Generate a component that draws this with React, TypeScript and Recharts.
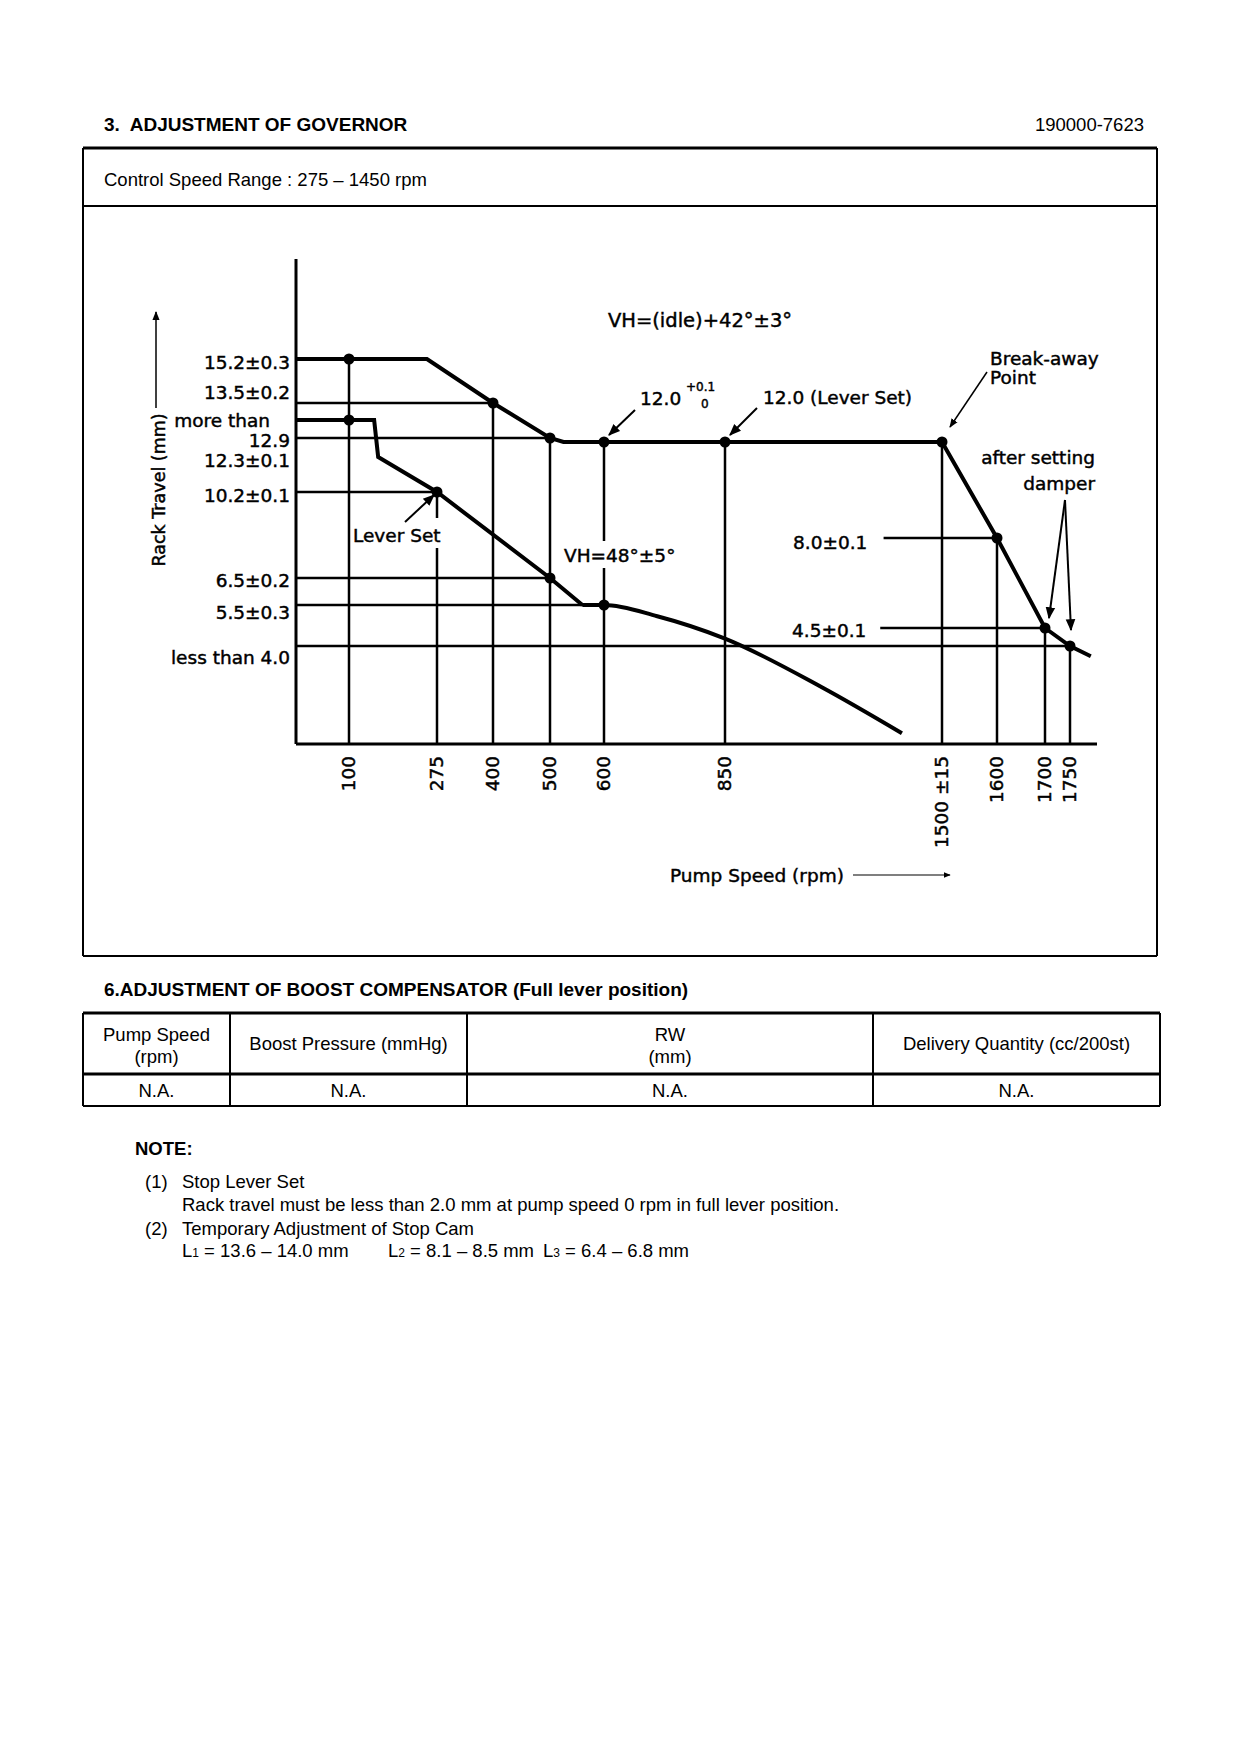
import React from "react";
import { ComposedChart, Line, Scatter, XAxis, YAxis, ReferenceLine } from "recharts";

// full lever curve (rpm / rack travel mm)
const fullRpm = [0, 100, 255, 400, 500, 525, 600, 850, 1500, 1600, 1700, 1750, 1790];
const fullRack = [15.2, 15.2, 15.2, 13.5, 12.9, 12.0, 12.0, 12.0, 12.0, 8.0, 4.5, 4.0, 3.7];
// idle lever curve
const idleRpm = [0, 100, 150, 158, 275, 500, 560, 600, 710, 850, 1140, 1380];
const idleRack = [12.9, 12.9, 12.9, 12.3, 10.2, 6.5, 5.5, 5.5, 5.1, 4.3, 2.6, 1.0];

const fullDots = [100, 400, 500, 600, 850, 1500, 1600, 1700, 1750];
const idleDots = [100, 275, 500, 600];

const speedTicks = [100, 275, 400, 500, 600, 850, 1500, 1600, 1700, 1750];
const speedTickText = ["100", "275", "400", "500", "600", "850", "1500 \u00b115", "1600", "1700", "1750"];

const rackLabels = [
  { mm: 15.2, curve: "full", text: ["15.2\u00b10.3"], nudge: 3 },
  { mm: 13.5, curve: "full", text: ["13.5\u00b10.2"], nudge: -11 },
  { mm: 12.9, curve: "idle", text: ["more than", "12.9"], nudge: 0 },
  { mm: 12.3, curve: "idle", text: ["12.3\u00b10.1"], nudge: 3 },
  { mm: 10.2, curve: "idle", text: ["10.2\u00b10.1"], nudge: 3 },
  { mm: 6.5, curve: "idle", text: ["6.5\u00b10.2"], nudge: 2 },
  { mm: 5.5, curve: "idle", text: ["5.5\u00b10.3"], nudge: 7 },
  { mm: 4.0, curve: "full", text: ["less than 4.0"], nudge: 11 },
];

// guide lines down to the speed axis / across to the rack axis
const dropLines = [
  { rpm: 100, curve: "full" }, { rpm: 275, curve: "idle" }, { rpm: 400, curve: "full" },
  { rpm: 500, curve: "full" }, { rpm: 600, curve: "full" }, { rpm: 850, curve: "full" },
  { rpm: 1500, curve: "full" }, { rpm: 1600, curve: "full" }, { rpm: 1700, curve: "full" },
  { rpm: 1750, curve: "full" },
];
const crossLines = [
  { rpm: 400, curve: "full", from: 0 }, { rpm: 500, curve: "full", from: 0 },
  { rpm: 275, curve: "idle", from: 0 }, { rpm: 500, curve: "idle", from: 0 },
  { rpm: 600, curve: "idle", from: 0 }, { rpm: 1750, curve: "full", from: 0 },
  { rpm: 1600, curve: "full", from: 1325 }, { rpm: 1700, curve: "full", from: 1315 },
];

const tableHeads = [["Pump Speed", "(rpm)"], ["Boost Pressure (mmHg)"], ["RW", "(mm)"], ["Delivery Quantity (cc/200st)"]];
const tableRow = ["N.A.", "N.A.", "N.A.", "N.A."];

// the drawing is not to scale: piecewise calibration of both axes
const speedMarks = [[0, 0], [100, 53], [275, 141], [400, 197], [500, 254], [600, 308], [850, 429], [1500, 646], [1600, 701], [1700, 749], [1750, 774], [1850, 826]];
const fullMarks = [[3.0, 64], [4.0, 98], [4.5, 116], [8.0, 206], [12.0, 302], [12.9, 306], [13.5, 341], [15.2, 385]];
const idleMarks = [[0, -18], [4.0, 97], [5.5, 139], [6.5, 166], [10.2, 252], [12.3, 287], [12.9, 324]];

function calib(marks: number[][], v: number) {
  let i = 0;
  while (i < marks.length - 2 && v > marks[i + 1][0]) i++;
  const [a, pa] = marks[i];
  const [b, pb] = marks[i + 1];
  return pa + ((v - a) / (b - a)) * (pb - pa);
}
const sx = (rpm: number) => calib(speedMarks, rpm);
const sy = (curve: string, mm: number) => calib(curve === "full" ? fullMarks : idleMarks, mm);
const rackOf = (curve: string, rpm: number) =>
  curve === "full" ? fullRack[fullRpm.indexOf(rpm)] : idleRack[idleRpm.indexOf(rpm)];

const fullPts = fullRpm.map((r, i) => ({ x: sx(r), y: sy("full", fullRack[i]) }));
const idlePts = idleRpm.map((r, i) => ({ x: sx(r), y: sy("idle", idleRack[i]) }));
const dotPts = [
  ...fullDots.map((r) => ({ x: sx(r), y: sy("full", rackOf("full", r)) })),
  ...idleDots.map((r) => ({ x: sx(r), y: sy("idle", rackOf("idle", r)) })),
];
const rackTickLevels = rackLabels.map((l) => sy(l.curve, l.mm));

const CHART_FONT = "'DejaVu Sans', sans-serif";
const PAGE_FONT = "'Liberation Sans', Arial, sans-serif";
const heavy = { stroke: "#000", strokeWidth: 0.45 };

function SpeedTick(props: any) {
  const { x, y, index } = props;
  return (
    <g transform={`translate(${x},${y}) rotate(-90)`}>
      <text textAnchor="end" dy="0.35em" fontSize={18.5} fontFamily={CHART_FONT} fill="#000" {...heavy}>
        {speedTickText[index]}
      </text>
    </g>
  );
}

function RackTick(props: any) {
  const { x, y, payload } = props;
  let idx = 0;
  rackTickLevels.forEach((lv, i) => {
    if (Math.abs(lv - payload.value) < Math.abs(rackTickLevels[idx] - payload.value)) idx = i;
  });
  const lab = rackLabels[idx];
  return (
    <g>
      {lab.text.map((t, k) => (
        <text
          key={k}
          x={lab.text.length > 1 && k === 0 ? x - 20 : x}
          y={y + lab.nudge + k * 20}
          textAnchor="end"
          dominantBaseline="central"
          fontSize={18.5}
          fontFamily={CHART_FONT}
          fill="#000"
          {...heavy}
        >
          {t}
        </text>
      ))}
    </g>
  );
}

function T({ x, y, children, size = 18.5, bold = false, anchor = "start", font = PAGE_FONT }: any) {
  const chart = font === CHART_FONT;
  return (
    <text x={x} y={y} fontSize={size} fontWeight={bold ? "bold" : "normal"} textAnchor={anchor}
      dominantBaseline="central" fontFamily={font} fill="#000" style={{ whiteSpace: "pre" }}
      {...(chart ? heavy : {})}>
      {children}
    </text>
  );
}

function Overlay() {
  const colX = [83, 230, 467, 873, 1160];
  return (
    <svg width={1240} height={1754} style={{ position: "absolute", left: 0, top: 0, pointerEvents: "none" }}>
      <defs>
        <marker id="ah" viewBox="0 0 10 10" refX="9" refY="5" markerWidth="6" markerHeight="6" orient="auto">
          <path d="M0,1 L10,5 L0,9 z" fill="#000" />
        </marker>
      </defs>
      {/* page header */}
      <T x={104} y={124} bold size={19}>{"3.  ADJUSTMENT OF GOVERNOR"}</T>
      <T x={1144} y={124} anchor="end">190000-7623</T>
      <line x1={83} y1={148} x2={1157} y2={148} stroke="#000" strokeWidth={3} />
      <line x1={83} y1={148} x2={83} y2={956} stroke="#000" strokeWidth={2} />
      <line x1={1157} y1={148} x2={1157} y2={956} stroke="#000" strokeWidth={2} />
      <line x1={83} y1={956} x2={1157} y2={956} stroke="#000" strokeWidth={2} />
      <line x1={83} y1={206} x2={1157} y2={206} stroke="#000" strokeWidth={2} />
      <T x={104} y={179}>{"Control Speed Range : 275 \u2013 1450 rpm"}</T>

      {/* chart annotations */}
      <rect x={351} y={518} width={95} height={30} fill="#fff" />
      <rect x={560} y={541} width={132} height={27} fill="#fff" />
      <T x={353} y={535} font={CHART_FONT}>Lever Set</T>
      <line x1={405} y1={522} x2={434} y2={495} stroke="#000" strokeWidth={2} markerEnd="url(#ah)" />
      <T x={564} y={555} font={CHART_FONT}>{"VH=48\u00b0\u00b15\u00b0"}</T>
      <T x={700} y={320} anchor="middle" font={CHART_FONT} size={19.5}>{"VH=(idle)+42\u00b0\u00b13\u00b0"}</T>
      <T x={640} y={398} font={CHART_FONT}>12.0</T>
      <T x={686} y={387} size={12} font={CHART_FONT}>+0.1</T>
      <T x={701} y={404} size={12} font={CHART_FONT}>0</T>
      <line x1={635} y1={410} x2={609} y2={435} stroke="#000" strokeWidth={2} markerEnd="url(#ah)" />
      <T x={763} y={397} font={CHART_FONT}>12.0 (Lever Set)</T>
      <line x1={757} y1={408} x2={730} y2={435} stroke="#000" strokeWidth={2} markerEnd="url(#ah)" />
      <T x={990} y={358} font={CHART_FONT}>Break-away</T>
      <T x={990} y={377} font={CHART_FONT}>Point</T>
      <line x1={987} y1={372} x2={950} y2={427} stroke="#000" strokeWidth={1.5} markerEnd="url(#ah)" />
      <T x={1095} y={457} anchor="end" font={CHART_FONT}>after setting</T>
      <T x={1095} y={483} anchor="end" font={CHART_FONT}>damper</T>
      <line x1={1065} y1={500} x2={1049} y2={618} stroke="#000" strokeWidth={2} markerEnd="url(#ah)" />
      <line x1={1065} y1={500} x2={1071} y2={630} stroke="#000" strokeWidth={2} markerEnd="url(#ah)" />
      <T x={793} y={542} font={CHART_FONT}>{"8.0\u00b10.1"}</T>
      <T x={792} y={630} font={CHART_FONT}>{"4.5\u00b10.1"}</T>
      <g transform="translate(159,490) rotate(-90)">
        <text textAnchor="middle" dominantBaseline="central" fontSize={17.5} fontFamily={CHART_FONT} fill="#000" {...heavy}>
          Rack Travel (mm)
        </text>
      </g>
      <line x1={156} y1={408} x2={156} y2={312} stroke="#000" strokeWidth={1.5} markerEnd="url(#ah)" />
      <T x={670} y={875} font={CHART_FONT}>Pump Speed (rpm)</T>
      <line x1={853} y1={875} x2={950} y2={875} stroke="#000" strokeWidth={1.2} markerEnd="url(#ah)" />

      {/* boost compensator table */}
      <T x={104} y={989} bold size={19}>6.ADJUSTMENT OF BOOST COMPENSATOR (Full lever position)</T>
      <line x1={83} y1={1013} x2={1160} y2={1013} stroke="#000" strokeWidth={3} />
      <line x1={83} y1={1074} x2={1160} y2={1074} stroke="#000" strokeWidth={3} />
      <line x1={83} y1={1106} x2={1160} y2={1106} stroke="#000" strokeWidth={2} />
      {colX.map((cx) => (
        <line key={cx} x1={cx} y1={1013} x2={cx} y2={1106} stroke="#000" strokeWidth={2} />
      ))}
      {tableHeads.map((lines, i) => {
        const cx = (colX[i] + colX[i + 1]) / 2;
        return lines.map((t, k) => (
          <T key={`${i}-${k}`} x={cx} y={lines.length > 1 ? 1034 + k * 22 : 1043} anchor="middle">{t}</T>
        ));
      })}
      {tableRow.map((t, i) => (
        <T key={i} x={(colX[i] + colX[i + 1]) / 2} y={1090} anchor="middle">{t}</T>
      ))}

      {/* notes */}
      <T x={135} y={1148} bold>NOTE:</T>
      <T x={145} y={1181}>(1)</T>
      <T x={182} y={1181}>Stop Lever Set</T>
      <T x={182} y={1204}>Rack travel must be less than 2.0 mm at pump speed 0 rpm in full lever position.</T>
      <T x={145} y={1228}>(2)</T>
      <T x={182} y={1228}>Temporary Adjustment of Stop Cam</T>
      {[
        { x: 182, n: "1", t: " = 13.6 \u2013 14.0 mm" },
        { x: 388, n: "2", t: " = 8.1 \u2013 8.5 mm" },
        { x: 543, n: "3", t: " = 6.4 \u2013 6.8 mm" },
      ].map((p) => (
        <text key={p.n} x={p.x} y={1250} dominantBaseline="central" fontFamily={PAGE_FONT} fontSize={18.5} fill="#000" style={{ whiteSpace: "pre" }}>
          L<tspan fontSize={12} dy={3}>{p.n}</tspan><tspan dy={-3}>{p.t}</tspan>
        </text>
      ))}
    </svg>
  );
}

export default function App() {
  const guide = { stroke: "#000", strokeWidth: 2.5 };
  return (
    <div style={{ position: "absolute", left: 0, top: 0, width: 1240, height: 1754, background: "#fff" }}>
      <div style={{ position: "absolute", left: 0, top: 0 }}>
        <ComposedChart width={1240} height={900} margin={{ top: 259, right: 143, bottom: 46, left: 156 }}>
          <XAxis
            type="number"
            dataKey="x"
            domain={[0, 801]}
            allowDataOverflow
            ticks={speedTicks.map(sx)}
            interval={0}
            tickSize={0}
            tickMargin={12}
            height={110}
            tickLine={false}
            axisLine={{ stroke: "#000", strokeWidth: 3 }}
            tick={(p: any) => <SpeedTick {...p} />}
          />
          <YAxis
            type="number"
            domain={[0, 485]}
            allowDataOverflow
            width={140}
            ticks={rackTickLevels}
            interval={0}
            tickSize={0}
            tickMargin={6}
            tickLine={false}
            axisLine={{ stroke: "#000", strokeWidth: 3 }}
            tick={(p: any) => <RackTick {...p} />}
          />
          {dropLines.map((d, i) => (
            <ReferenceLine
              key={`d${i}`}
              segment={[{ x: sx(d.rpm), y: 0 }, { x: sx(d.rpm), y: sy(d.curve, rackOf(d.curve, d.rpm)) }]}
              {...guide}
            />
          ))}
          {crossLines.map((c, i) => {
            const lv = sy(c.curve, rackOf(c.curve, c.rpm));
            return (
              <ReferenceLine key={`c${i}`} segment={[{ x: sx(c.from), y: lv }, { x: sx(c.rpm), y: lv }]} {...guide} />
            );
          })}
          <Line data={fullPts} dataKey="y" type="linear" stroke="#000" strokeWidth={4} dot={false} isAnimationActive={false} />
          <Line data={idlePts.slice(0, 7)} dataKey="y" type="linear" stroke="#000" strokeWidth={4} dot={false} isAnimationActive={false} />
          <Line data={idlePts.slice(6)} dataKey="y" type="monotoneX" stroke="#000" strokeWidth={4} dot={false} isAnimationActive={false} />
          <Scatter
            data={dotPts}
            dataKey="y"
            isAnimationActive={false}
            shape={(p: any) => <circle cx={p.cx} cy={p.cy} r={5.5} fill="#000" />}
          />
        </ComposedChart>
      </div>
      <Overlay />
    </div>
  );
}
